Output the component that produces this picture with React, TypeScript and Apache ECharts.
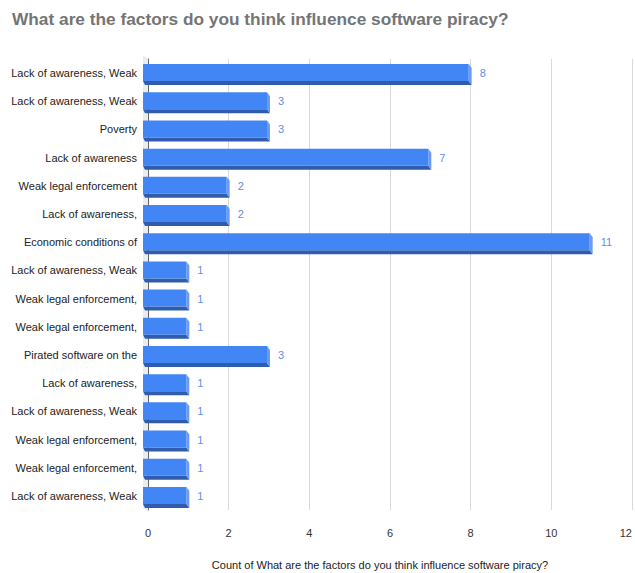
import React, { useEffect, useRef } from "react";
import * as echarts from "echarts";

const categories = [
  "Lack of awareness, Weak",
  "Lack of awareness, Weak",
  "Poverty",
  "Lack of awareness",
  "Weak legal enforcement",
  "Lack of awareness,",
  "Economic conditions of",
  "Lack of awareness, Weak",
  "Weak legal enforcement,",
  "Weak legal enforcement,",
  "Pirated software on the",
  "Lack of awareness,",
  "Lack of awareness, Weak",
  "Weak legal enforcement,",
  "Weak legal enforcement,",
  "Lack of awareness, Weak",
];
const counts = [8, 3, 3, 7, 2, 2, 11, 1, 1, 1, 3, 1, 1, 1, 1, 1];
const xTicks = { min: 0, max: 12, interval: 2 };
const titleText = "What are the factors do you think influence software piracy?";
const xName = "Count of What are the factors do you think influence software piracy?";

const FONT = "'Liberation Sans', Arial, sans-serif";

export default function App() {
  const ref = useRef<HTMLDivElement>(null);
  useEffect(() => {
    if (!ref.current) return;
    const chart = echarts.init(ref.current, null, { renderer: "svg" });
    const renderItem = (params: any, api: any) => {
      const idx = api.value(1);
      const v = api.value(0);
      const c0 = api.coord([0, idx]);
      const cv = api.coord([v, idx]);
      const cy = cv[1];
      const x0 = c0[0] - 5;
      const x1 = cv[0] - 2;
      const yT = cy - 9;
      const yB = cy + 8;
      const dx = 3;
      const dy = 4;
      return {
        type: "group",
        children: [
          {
            type: "polygon",
            shape: { points: [[x0, yB], [x1, yB], [x1 + dx, yB + dy], [x0 + 2, yB + dy]] },
            style: { fill: "#2f5cac" },
          },
          {
            type: "polygon",
            shape: { points: [[x1, yT], [x1 + dx, yT + dy], [x1 + dx, yB + dy], [x1, yB]] },
            style: { fill: "#6b9cf3" },
          },
          {
            type: "rect",
            shape: { x: x0, y: yT, width: x1 - x0, height: yB - yT },
            style: { fill: "#4285f4" },
          },
          {
            type: "text",
            x: x1 + dx + 8,
            y: cy,
            style: {
              text: String(v),
              fill: "#5c8fee",
              fontSize: 11,
              fontFamily: FONT,
              verticalAlign: "middle",
              align: "left",
            },
          },
        ],
      };
    };
    chart.setOption({
      animation: false,
      backgroundColor: "#ffffff",
      title: {
        text: titleText,
        left: 12,
        top: 10,
        padding: 0,
        textStyle: { fontSize: 17.3, fontWeight: "bold", color: "#757575", fontFamily: FONT },
      },
      grid: { left: 148, right: 3, top: 59, bottom: 63, containLabel: false, outerBoundsMode: "none" },
      graphic: [
        {
          type: "polygon",
          z: -1,
          shape: { points: [[143, 55], [148, 59], [148, 512], [143, 508]] },
          style: { fill: "#ececec" },
        },
      ],
      xAxis: {
        type: "value",
        min: xTicks.min,
        max: xTicks.max,
        interval: xTicks.interval,
        axisLine: { show: false },
        axisTick: { show: false },
        splitLine: { show: true, lineStyle: { color: "#d9d9d9", width: 1 } },
        axisLabel: { color: "#333", fontSize: 11, fontFamily: FONT, margin: 17, alignMaxLabel: "right" },
        name: xName,
        nameLocation: "middle",
        nameGap: 49,
        nameTextStyle: { color: "#222", fontSize: 11, fontFamily: FONT, padding: [0, 20, 0, 0] },
      },
      yAxis: {
        type: "category",
        inverse: true,
        data: categories,
        axisLine: { show: true, lineStyle: { color: "#666", width: 1 } },
        axisTick: { show: false },
        axisLabel: { color: "#222", fontSize: 11, fontFamily: FONT, margin: 11, interval: 0 },
      },
      series: [
        {
          type: "custom",
          renderItem,
          encode: { x: 0, y: 1 },
          data: counts.map((c, i) => [c, i]),
          z: 3,
        },
      ],
    });
    return () => chart.dispose();
  }, []);
  return (
    <div
      ref={ref}
      style={{ position: "fixed", left: 0, top: 0, width: 635, height: 573 }}
    />
  );
}
